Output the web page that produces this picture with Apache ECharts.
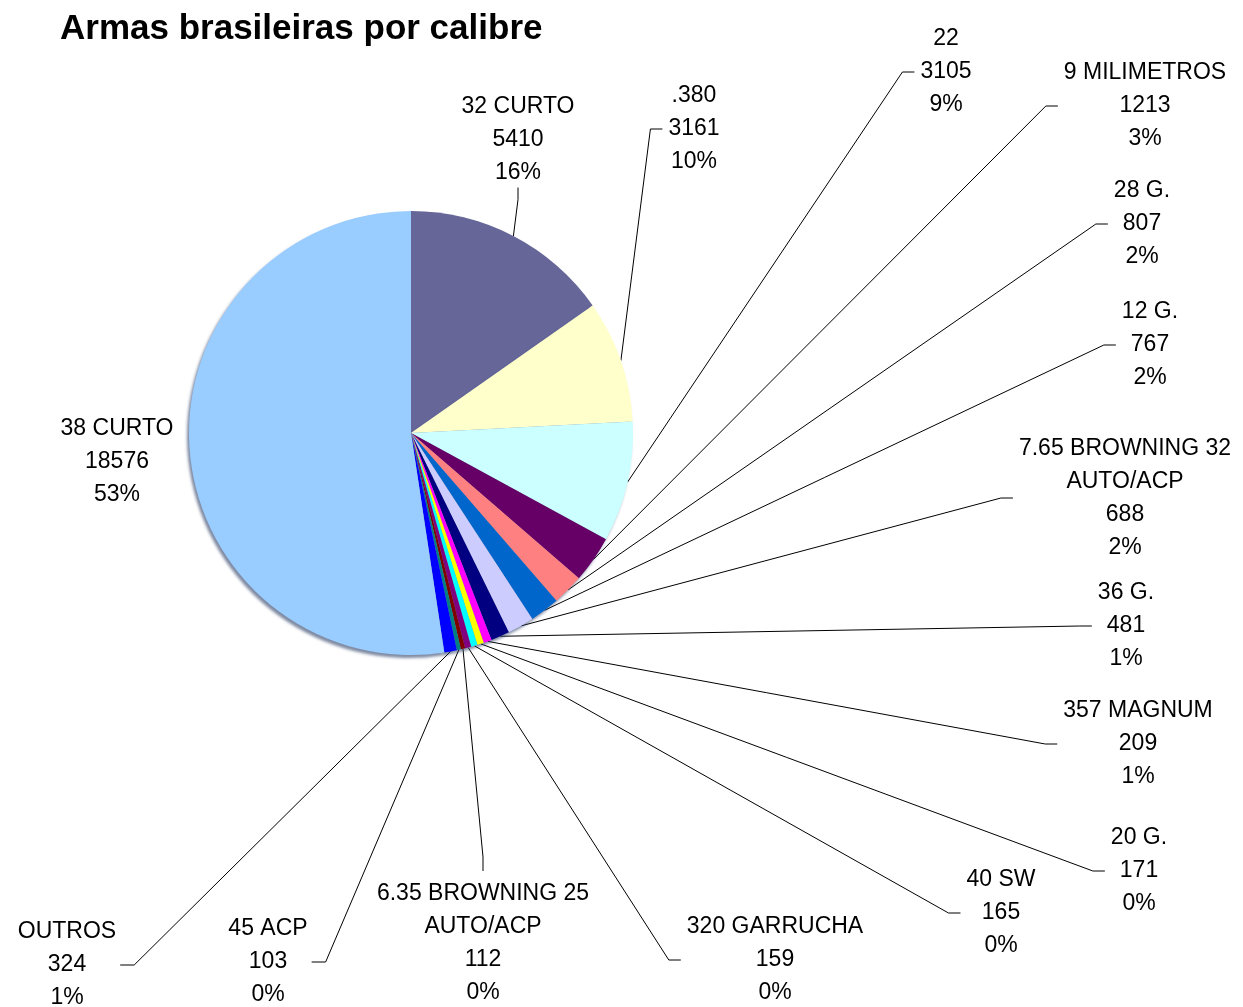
<!DOCTYPE html>
<html>
<head>
<meta charset="utf-8">
<script src="https://cdn.jsdelivr.net/npm/echarts@6/dist/echarts.min.js"></script>
<style>
html,body{margin:0;padding:0;background:#fff;}
#chart{width:1243px;height:1007px;}
</style>
</head>
<body>
<div id="chart"></div>
<script>
// ---- data ----
const categories = ['32 CURTO', '.380', '22', '9 MILIMETROS', '28 G.', '12 G.',
  '7.65 BROWNING 32\nAUTO/ACP', '36 G.', '357 MAGNUM', '20 G.', '40 SW',
  '320 GARRUCHA', '6.35 BROWNING 25\nAUTO/ACP', '45 ACP', 'OUTROS', '38 CURTO'];
const values = [5410, 3161, 3105, 1213, 807, 767, 688, 481, 209, 171, 165, 159, 112, 103, 324, 18576];
const percentLabels = ['16%', '10%', '9%', '3%', '2%', '2%', '2%', '1%', '1%', '0%', '0%', '0%', '0%', '0%', '1%', '53%'];

// ---- styling / layout (not data) ----
const colors = ['#666699', '#FFFFCC', '#CCFFFF', '#660066', '#FF8080', '#0066CC',
  '#CCCCFF', '#000080', '#FF00FF', '#FFFF00', '#00FFFF', '#800080', '#800000',
  '#008080', '#0000FF', '#99CCFF'];
// label block centres and the side where the leader line attaches
const labelLayoutPos = [
  [518, 140, 'b'], [694, 129, 'l'], [946, 72, 'l'], [1145, 106, 'l'],
  [1142, 224, 'l'], [1150, 345, 'l'], [1125, 498, 'l'], [1126, 626, 'l'],
  [1138, 744, 'l'], [1139, 871, 'l'], [1001, 913, 'l'], [775, 960, 'l'],
  [483, 943, 't'], [268, 962, 'r'], [67, 965, 'r'], [117, 462, 'n']
];

const chart = echarts.init(document.getElementById('chart'));
const data = categories.map((c, i) => ({
  name: c, value: values[i],
  itemStyle: { color: colors[i] },
  labelLine: { show: i !== categories.length - 1 }
}));

chart.setOption({
  animation: false,
  title: {
    text: 'Armas brasileiras por calibre',
    left: 55, top: 7,
    textStyle: { fontFamily: 'Liberation Sans, Arial', fontSize: 35, fontWeight: 'bold', color: '#000' }
  },
  series: [{
    type: 'pie',
    center: [411, 433],
    radius: 222,
    startAngle: 90,
    clockwise: true,
    avoidLabelOverlap: false,
    data: data,
    itemStyle: {
      shadowColor: 'rgba(40,60,100,0.6)', shadowBlur: 3, shadowOffsetX: -2, shadowOffsetY: 3
    },
    label: {
      show: true,
      position: 'outside',
      fontFamily: 'Liberation Sans, Arial',
      fontSize: 23,
      lineHeight: 33,
      color: '#000',
      align: 'center',
      formatter: p => p.name + '\n' + values[p.dataIndex] + '\n' + percentLabels[p.dataIndex]
    },
    labelLine: { show: true, length: 10, length2: 10, lineStyle: { color: '#000', width: 1 } },
    labelLayout: function (params) {
      const i = params.dataIndex;
      const L = labelLayoutPos[i];
      const w = params.labelRect.width, h = params.labelRect.height;
      const cx = L[0], cy = L[1];
      const res = { x: cx, y: cy, align: 'center', verticalAlign: 'middle' };
      const pts = params.labelLinePoints;
      if (pts && L[2] !== 'n') {
        const start = pts[0];
        let end, elbow;
        if (L[2] === 'l') { end = [cx - w / 2 - 6, cy]; elbow = [end[0] - 12, cy]; }
        else if (L[2] === 'r') { end = [cx + w / 2 + 4, cy]; elbow = [end[0] + 14, cy]; }
        else if (L[2] === 't') { end = [cx, cy - h / 2 - 6]; elbow = [cx, end[1] - 14]; }
        else { end = [cx, cy + h / 2 - 2]; elbow = [cx, end[1] + 12]; }
        res.labelLinePoints = [start, elbow, end];
      }
      return res;
    }
  }]
});
</script>
</body>
</html>
